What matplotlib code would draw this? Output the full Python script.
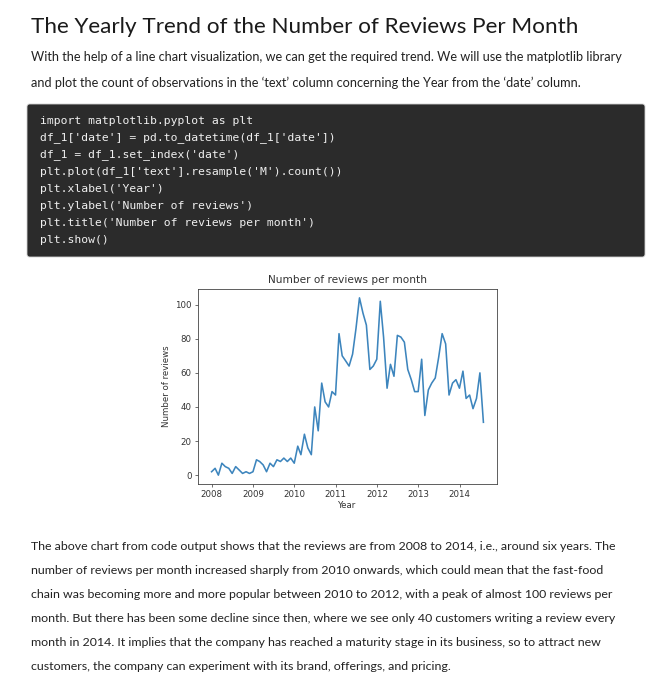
import numpy as np
import pandas as pd
import matplotlib
matplotlib.use("Agg")
import matplotlib.pyplot as plt
from matplotlib.patches import FancyBboxPatch

# Reviews per month (month-end dates, Dec 2007 - Jul 2014)
dates = pd.date_range("2007-12-31", periods=80, freq="ME")
reviews = [2, 4, 0, 7, 5, 4, 1, 5, 3, 1, 2, 1,
           2, 9, 8, 6, 2, 7, 5, 9, 8, 10, 8, 10,
           7, 17, 12, 24, 16, 12, 40, 26, 54, 43, 40, 49,
           47, 83, 70, 67, 64, 71, 86, 104, 95, 88, 62, 64,
           68, 102, 81, 51, 65, 58, 82, 81, 78, 62, 56, 49,
           49, 68, 35, 50, 54, 57, 69, 83, 77, 47, 54, 56,
           51, 61, 45, 47, 39, 45, 60, 31]

heading = "The Yearly Trend of the Number of Reviews Per Month"
intro = ["With the help of a line chart visualization, we can get the required trend. We will use the matplotlib library",
         "and plot the count of observations in the \u2018text\u2019 column concerning the Year from the \u2018date\u2019 column."]
code = ["import matplotlib.pyplot as plt",
        "df_1['date'] = pd.to_datetime(df_1['date'])",
        "df_1 = df_1.set_index('date')",
        "plt.plot(df_1['text'].resample('M').count())",
        "plt.xlabel('Year')",
        "plt.ylabel('Number of reviews')",
        "plt.title('Number of reviews per month')",
        "plt.show()"]
outro = ["The above chart from code output shows that the reviews are from 2008 to 2014, i.e., around six years. The",
         "number of reviews per month increased sharply from 2010 onwards, which could mean that the fast-food",
         "chain was becoming more and more popular between 2010 to 2012, with a peak of almost 100 reviews per",
         "month. But there has been some decline since then, where we see only 40 customers writing a review every",
         "month in 2014. It implies that the company has reached a maturity stage in its business, so to attract new",
         "customers, the company can experiment with its brand, offerings, and pricing."]

W, H = 651, 680
fig = plt.figure(figsize=(W / 100, H / 100), dpi=100)
fig.patch.set_facecolor("white")

def px(x, y):
    return x / W, 1 - y / H

# page text
fig.text(*px(31, 27), heading, fontsize=16.2, family="Lato", color="#1a1a1a", va="center")
for i, line in enumerate(intro):
    fig.text(*px(31, 57 + 26 * i), line, fontsize=9.15, family="Lato", color="#222222", va="center")

# code block
box = FancyBboxPatch(px(27, 257), 618 / W, 153 / H, boxstyle="round,pad=0,rounding_size=0.004",
                     transform=fig.transFigure, facecolor="#2b2b2b", edgecolor="#d0d0d0", lw=0.6)
fig.patches.append(box)
for i, line in enumerate(code):
    fig.text(*px(40, 121 + 17 * i), line, fontsize=8.2, family="DejaVu Sans Mono", color="#f0f0f0", va="center")

for i, line in enumerate(outro):
    fig.text(*px(31, 546 + 24 * i), line, fontsize=8.95, family="Lato", color="#222222", va="center")

# the chart
ax = fig.add_axes([198 / W, 1 - 484 / H, 299 / W, 195 / H])
ax.plot(dates, reviews, color="#3d85bd", lw=1.15)
ax.set_title("Number of reviews per month", fontsize=7.6, color="#333333", pad=4)
ax.set_xlabel("Year", fontsize=6.2, color="#333333", labelpad=1)
ax.set_ylabel("Number of reviews", fontsize=6.2, color="#333333", labelpad=3)
ax.set_yticks([0, 20, 40, 60, 80, 100])
ax.tick_params(labelsize=6.2, colors="#333333", length=2.5, width=0.5, pad=2)
for s in ax.spines.values():
    s.set_linewidth(0.6)
    s.set_color("#444444")
ax.xaxis.set_major_locator(matplotlib.dates.YearLocator())
ax.xaxis.set_major_formatter(matplotlib.dates.DateFormatter("%Y"))

fig.savefig("out.png", dpi=100)
